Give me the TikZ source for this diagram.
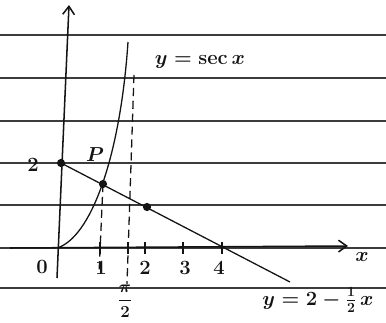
\documentclass[tikz,border=0pt]{standalone}
\usepackage{amsmath,amssymb}
\usepackage{xcolor}
\usepackage{tikz}
\usetikzlibrary{arrows.meta,positioning,calc}
\definecolor{cInk}{HTML}{141414}
\definecolor{cRule}{HTML}{3C3C3C}
\tikzset{
  rule/.style={draw=cRule,line width=1.3pt},
  axis/.style={-{Straight Barb[length=7pt,width=10pt]},line width=1.3pt,color=cInk},
  graph/.style={line width=1.1pt,color=cInk},
  asym/.style={dash pattern=on 7pt off 4pt,line width=1.1pt,color=cInk},
  tck/.style={line width=1.1pt,color=cInk},
  pt/.style={circle,fill=cInk,inner sep=0pt,minimum size=7pt},
  lbl/.style={font=\LARGE\boldmath,text=cInk,inner sep=1pt},
}

\begin{document}
\begin{tikzpicture}[x=0.03cm,y=-0.03cm]
  \useasboundingbox (0,0) rectangle (386,322);
  % ruled paper
  \foreach \yy in {35,78,121,163,205,248,288}
    \draw[rule] (0,\yy) -- (386,\yy);
  % axes
  \coordinate (xl) at (10,248); \coordinate (xr) at (348,246);
  \coordinate (yb) at (57,278); \coordinate (yt) at (69,5);
  \draw[axis] (xl) -- (xr);
  \draw[axis] (yb) -- (yt);
  % points
  \node[pt] (A) at (61,163) {};
  \node[pt] (P) at (103,184) {};
  \node[pt] (B) at (147,207) {};
  % y = sec x
  \coordinate (c0) at (57,248); \coordinate (c1) at (128,42);
  \draw[graph] (c0) .. controls (90,238) and (120,160) .. (c1);
  % y = 2 - x/2
  \coordinate (lend) at (290,282);
  \draw[graph] (A.center) -- (lend);
  % dashed verticals
  \coordinate (d1) at (99,274);
  \coordinate (d2t) at (134,75); \coordinate (d2b) at (127,284);
  \draw[asym] (P.center) -- (d1);
  \draw[asym] (d2t) -- (d2b);
  % ticks
  \foreach \xx in {100,128,145,183,222}
    \draw[tck] (\xx,242) -- (\xx,254);
  % labels
  \node[lbl] (o) at (42,267) {$0$};
  \node[lbl] (t1) at (101,268) {$1$};
  \node[lbl] (t2) at (145,268) {$2$};
  \node[lbl] (t3) at (185,268) {$3$};
  \node[lbl] (t4) at (219,268) {$4$};
  \node[lbl,font=\Large\boldmath] (tp) at (125,301) {$\dfrac{\pi}{2}$};
  \node[lbl] (ya) at (33,165) {$2$};
  \node[lbl] (pl) at (95,155) {$P$};
  \node[lbl] (xa) at (362,257) {$x$};
  \node[lbl] (sec) at (200,62) {$y=\sec x$};
  \node[lbl] (ln) at (318,300) {$y=2-\frac{1}{2}\,x$};
\end{tikzpicture}
\end{document}
